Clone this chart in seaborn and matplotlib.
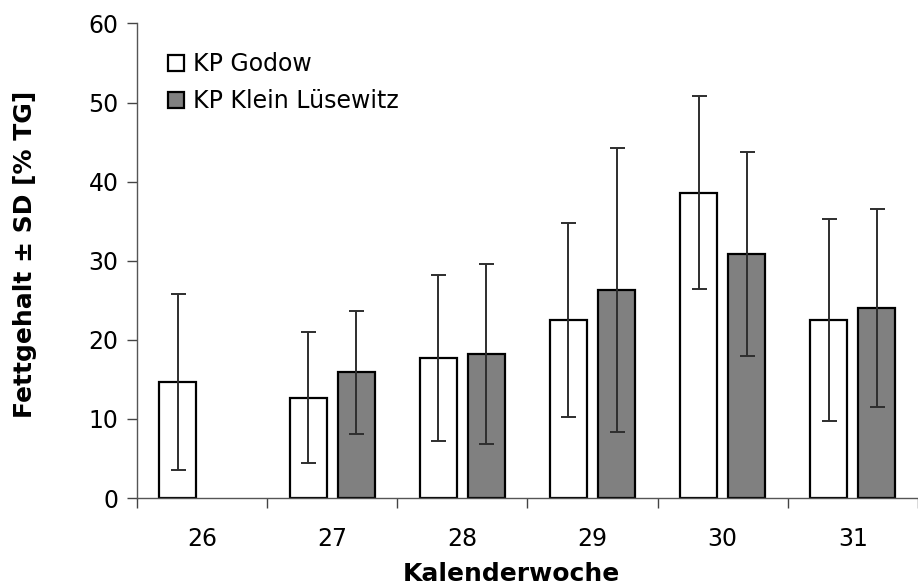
import numpy as np
import pandas as pd
import matplotlib
matplotlib.use("Agg")
import matplotlib.pyplot as plt
import seaborn as sns

# Calendar weeks and the two sampling sites
weeks = ["26", "27", "28", "29", "30", "31"]
sites = ["KP Godow", "KP Klein Lüsewitz"]

# Mean fat content (% of dry matter) and standard deviation per week
godow_mean = [14.7, 12.7, 17.7, 22.5, 38.6, 22.5]
godow_sd = [11.1, 8.3, 10.5, 12.3, 12.2, 12.8]
klein_mean = [np.nan, 15.9, 18.2, 26.3, 30.8, 24.0]
klein_sd = [np.nan, 7.8, 11.4, 17.9, 12.9, 12.5]

y_ticks = [0, 10, 20, 30, 40, 50, 60]

df = pd.DataFrame({
    "week": weeks * 2,
    "site": [sites[0]] * len(weeks) + [sites[1]] * len(weeks),
    "mean": godow_mean + klein_mean,
    "sd": godow_sd + klein_sd,
}).dropna()

sns.set_style("ticks")
plt.rcParams["font.family"] = ["DejaVu Sans"]
plt.rcParams["text.color"] = "black"
plt.rcParams["axes.labelcolor"] = "black"
plt.rcParams["xtick.labelcolor"] = "black"
plt.rcParams["ytick.labelcolor"] = "black"

fig = plt.figure(figsize=(9.18, 5.86), dpi=100)
ax = fig.add_axes([0.149, 0.150, 0.851, 0.810])

sns.barplot(
    data=df, x="week", y="mean", hue="site",
    order=weeks, hue_order=sites,
    palette={sites[0]: "white", sites[1]: "#808080"},
    edgecolor="black", linewidth=1.6,
    width=0.738, gap=0.228, errorbar=None,
    saturation=1, ax=ax,
)

# Standard deviation whiskers on each bar
sd_lookup = {(r.week, r.site): r.sd for r in df.itertuples()}
for container, site in zip(ax.containers, sites):
    for patch in container:
        h = patch.get_height()
        if not np.isfinite(h) or h == 0:
            continue
        xc = patch.get_x() + patch.get_width() / 2
        wk = weeks[int(round(xc))]
        ax.errorbar(xc, h, yerr=sd_lookup[(wk, site)], fmt="none",
                    ecolor="#2e2e2e", elinewidth=1.4, capsize=5.4,
                    capthick=1.4, zorder=5)

ax.set_ylim(0, 60)
ax.set_yticks(y_ticks)
ax.set_xlim(-0.5, 5.43)

# Category labels sit between boundary tick marks
ax.set_xticks(np.arange(-0.5, len(weeks), 1.0))
ax.set_xticklabels([])
ax.set_xticks(np.arange(len(weeks)), minor=True)
ax.set_xticklabels(weeks, minor=True)
ax.tick_params(axis="x", which="major", length=7, width=1, color="#444444",
               direction="out")
ax.tick_params(axis="x", which="minor", length=0, pad=21, labelsize=17)
ax.tick_params(axis="y", length=7, width=1, color="#444444", pad=6,
               labelsize=17)

for side in ["top", "right"]:
    ax.spines[side].set_visible(False)
for side in ["left", "bottom"]:
    ax.spines[side].set_color("#555555")
    ax.spines[side].set_linewidth(1.0)

ax.set_xlabel("Kalenderwoche", fontsize=18, fontweight="bold")
ax.set_ylabel("Fettgehalt ± SD [% TG]", fontsize=18, fontweight="bold")
ax.xaxis.set_label_coords(0.479, -0.134)
ax.yaxis.set_label_coords(-0.128, 0.513)

handles, labels = ax.get_legend_handles_labels()
ax.legend(handles, labels, loc="upper left", bbox_to_anchor=(0.040, 0.94),
          frameon=False, fontsize=17, handlelength=0.66, handleheight=0.66,
          handletextpad=0.4, labelspacing=0.55, borderpad=0,
          borderaxespad=0)

fig.savefig("out.png", dpi=100, facecolor="white")
